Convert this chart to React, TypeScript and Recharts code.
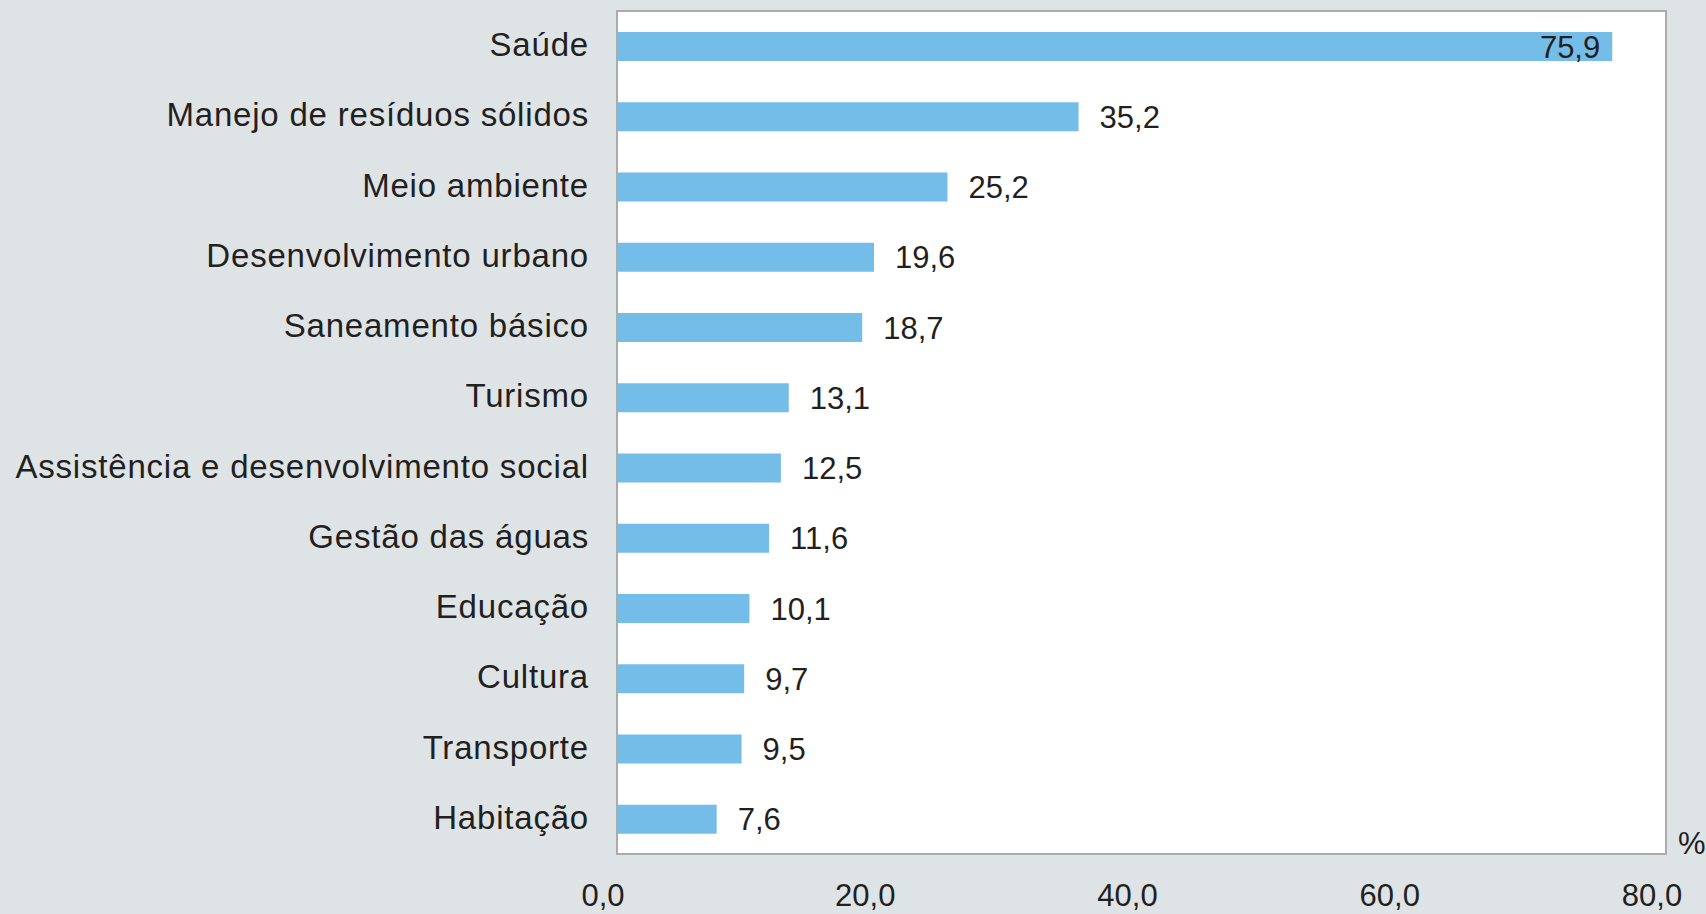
import React from "react";
import { BarChart, Bar, XAxis, YAxis, CartesianGrid, ReferenceArea, LabelList } from "recharts";

const categories = [
  "Saúde",
  "Manejo de resíduos sólidos",
  "Meio ambiente",
  "Desenvolvimento urbano",
  "Saneamento básico",
  "Turismo",
  "Assistência e desenvolvimento social",
  "Gestão das águas",
  "Educação",
  "Cultura",
  "Transporte",
  "Habitação",
];
const values = [75.9, 35.2, 25.2, 19.6, 18.7, 13.1, 12.5, 11.6, 10.1, 9.7, 9.5, 7.6];
const xTicks = [0, 20, 40, 60, 80];

const data = categories.map((c, i) => ({ name: c, value: values[i] }));

const TEXT = "#231f20";
const FONT = "'Liberation Sans', Arial, Helvetica, sans-serif";
const fmt = (v: number) => v.toFixed(1).replace(".", ",");

const ValueLabel = (props: any) => {
  const { x, y, width, height, value, index } = props;
  const inside = index === 0;
  const tx = inside ? x + width - 12 : x + width + 21;
  return (
    <text
      x={tx}
      y={y + height / 2}
      dy="0.36em"
      textAnchor={inside ? "end" : "start"}
      fill={TEXT}
      fontSize={31}
      fontFamily={FONT}
    >
      {fmt(value)}
    </text>
  );
};

const XTick = (props: any) => {
  const { x, y, payload } = props;
  return (
    <text x={x - 14} y={y} dy="0.36em" textAnchor="middle" fill={TEXT} fontSize={31} fontFamily={FONT}>
      {fmt(payload.value)}
    </text>
  );
};

const YTick = (props: any) => {
  const { x, y, payload } = props;
  return (
    <text
      x={x}
      y={y}
      dy="0.3em"
      textAnchor="end"
      fill={TEXT}
      fontSize={33}
      letterSpacing={0.8}
      fontFamily={FONT}
    >
      {payload.value}
    </text>
  );
};

export default function App() {
  return (
    <div style={{ position: "absolute", left: 0, top: 0, width: 1706, height: 914, background: "#dee3e6" }}>
      <BarChart
        width={1706}
        height={914}
        data={data}
        layout="vertical"
        margin={{ top: 11, right: 40, bottom: 2, left: 0 }}
        barSize={29}
      >
        <CartesianGrid horizontal={false} vertical={false} fill="#ffffff" />
        <XAxis
          type="number"
          domain={[0, 80]}
          ticks={xTicks}
          axisLine={false}
          tickLine={false}
          tick={<XTick />}
          tickMargin={41}
          tickSize={0}
          height={58}
        />
        <YAxis
          type="category"
          dataKey="name"
          width={617}
          axisLine={false}
          tickLine={false}
          tickSize={0}
          tickMargin={28}
          tick={<YTick />}
          interval={0}
        />
        <ReferenceArea
          x1={0}
          x2={80}
          fill="none"
          fillOpacity={0}
          stroke="#a9abad"
          strokeWidth={2}
          ifOverflow="visible"
        />
        <Bar dataKey="value" fill="#74bde8" isAnimationActive={false}>
          <LabelList dataKey="value" content={<ValueLabel />} />
        </Bar>
      </BarChart>
      <div
        style={{
          position: "absolute",
          left: 1678,
          top: 826,
          fontSize: 31,
          fontFamily: FONT,
          color: TEXT,
        }}
      >
        %
      </div>
    </div>
  );
}
